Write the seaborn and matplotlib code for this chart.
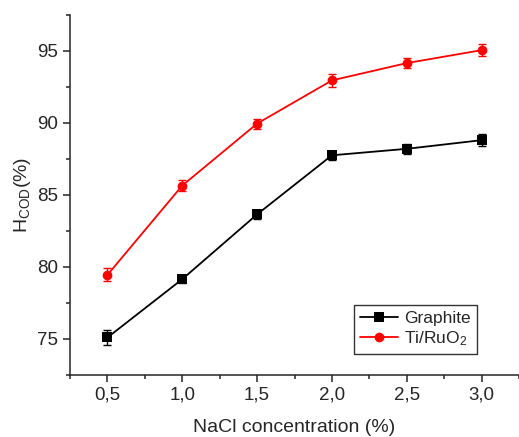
import matplotlib.pyplot as plt
import matplotlib.ticker as mticker
import numpy as np
import pandas as pd
import seaborn as sns

sns.set_style('ticks')
plt.rcParams['font.family'] = ['Liberation Sans', 'DejaVu Sans']
plt.rcParams['mathtext.fontset'] = 'custom'
plt.rcParams['mathtext.rm'] = 'Liberation Sans'
plt.rcParams['mathtext.it'] = 'Liberation Sans:italic'

#%% data
nacl = [0.5, 1.0, 1.5, 2.0, 2.5, 3.0]
graphite = [75.1, 79.15, 83.65, 87.75, 88.2, 88.8]
graphite_err = [0.55, 0.3, 0.3, 0.3, 0.35, 0.4]
ruo2 = [79.45, 85.65, 89.95, 92.95, 94.15, 95.05]
ruo2_err = [0.45, 0.35, 0.35, 0.45, 0.35, 0.4]

df = pd.DataFrame({
    'nacl': nacl * 2,
    'cod': graphite + ruo2,
    'err': graphite_err + ruo2_err,
    'electrode': ['Graphite'] * 6 + ['Ti/RuO$_2$'] * 6,
})

#%% plot
fig = plt.figure(figsize=(5.19, 4.37), dpi=100)
ax = fig.add_axes([0.135, 0.142, 0.865, 0.824])

palette = {'Graphite': 'black', 'Ti/RuO$_2$': 'red'}
markers = {'Graphite': 's', 'Ti/RuO$_2$': 'o'}
sns.lineplot(data=df, x='nacl', y='cod', hue='electrode', style='electrode',
             palette=palette, markers=markers, dashes=False, markersize=7,
             markeredgewidth=0, linewidth=1.3, ax=ax)
for name, d in df.groupby('electrode'):
    ax.errorbar(d.nacl, d.cod, yerr=d.err, fmt='none', ecolor=palette[name],
                elinewidth=1, capsize=3, capthick=1)

ax.set(xlim=(0.25, 3.25), ylim=(72.5, 97.5))
ax.set_xticks(nacl)
ax.set_xticklabels([f'{v:.1f}'.replace('.', ',') for v in nacl])
ax.set_yticks([75, 80, 85, 90, 95])
ax.xaxis.set_minor_locator(mticker.MultipleLocator(0.25))
ax.yaxis.set_minor_locator(mticker.MultipleLocator(2.5))
ax.tick_params(which='major', direction='out', length=5, width=1.1, labelsize=13.5)
ax.tick_params(which='minor', direction='out', length=3, width=1.1)
for s in ['left', 'bottom']:
    ax.spines[s].set_linewidth(1.1)
sns.despine(ax=ax)

ax.set_xlabel('NaCl concentration (%)', fontsize=14, labelpad=11)
ax.set_ylabel(r'H$_{\rm COD}$(%)', fontsize=14, labelpad=3)

leg = ax.legend(title=None, loc='lower right', bbox_to_anchor=(0.925, 0.035),
                fontsize=12.5, frameon=True, fancybox=False, edgecolor='black',
                handlelength=2.2, handletextpad=0.35, borderpad=0.35,
                labelspacing=0.15)
leg.get_frame().set_linewidth(1)

fig.savefig('out.png', dpi=100)
